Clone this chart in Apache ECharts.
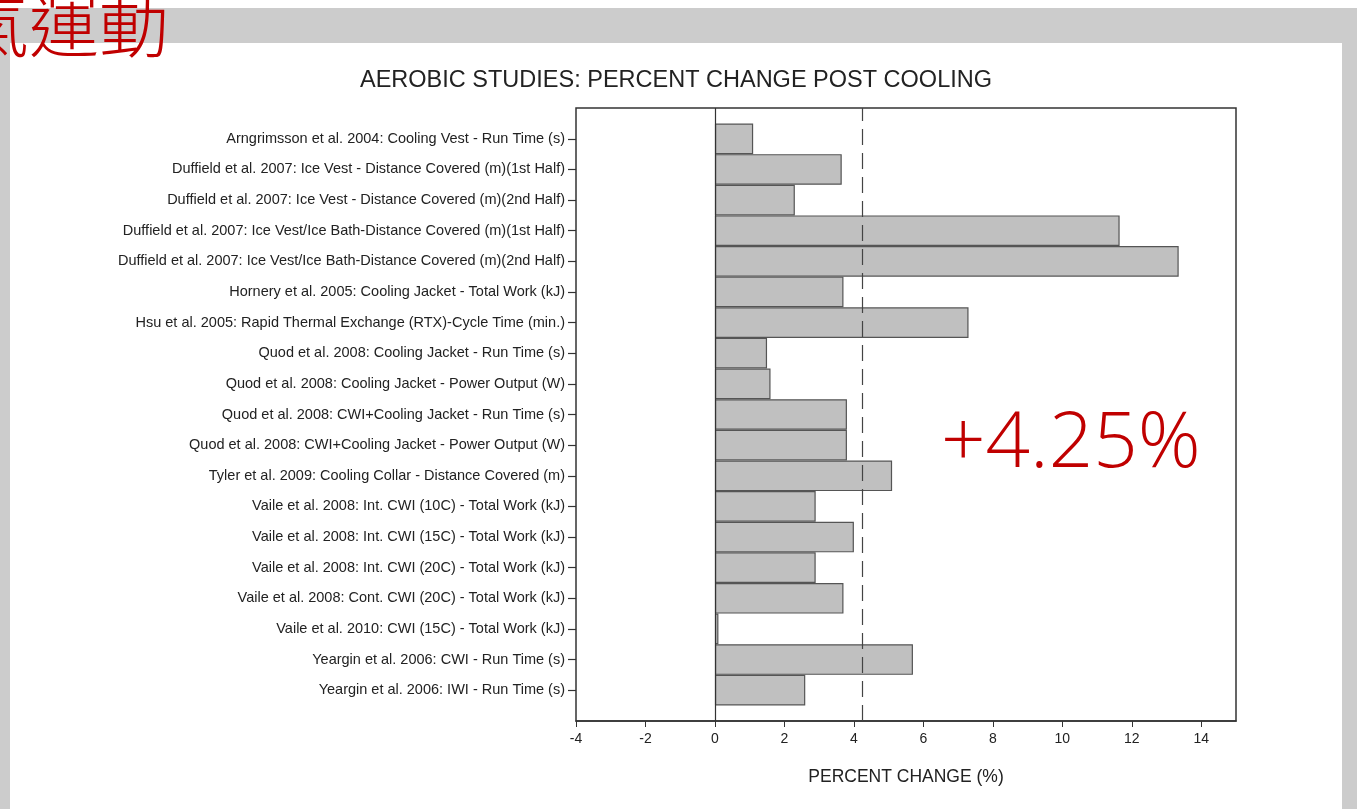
<!DOCTYPE html>
<html><head><meta charset="utf-8">
<script src="https://cdn.jsdelivr.net/npm/echarts@6/dist/echarts.min.js"></script>
<style>html,body{margin:0;padding:0;background:#fff;}#c{width:1357px;height:809px;}</style>
</head><body><div id="c"></div>
<script>
const categories = [
  "Arngrimsson et al. 2004: Cooling Vest - Run Time (s)",
  "Duffield et al. 2007: Ice Vest - Distance Covered (m)(1st Half)",
  "Duffield et al. 2007: Ice Vest - Distance Covered (m)(2nd Half)",
  "Duffield et al. 2007: Ice Vest/Ice Bath-Distance Covered (m)(1st Half)",
  "Duffield et al. 2007: Ice Vest/Ice Bath-Distance Covered (m)(2nd Half)",
  "Hornery et al. 2005: Cooling Jacket - Total Work (kJ)",
  "Hsu et al. 2005: Rapid Thermal Exchange (RTX)-Cycle Time (min.)",
  "Quod et al. 2008: Cooling Jacket - Run Time (s)",
  "Quod et al. 2008: Cooling Jacket - Power Output (W)",
  "Quod et al. 2008: CWI+Cooling Jacket - Run Time (s)",
  "Quod et al. 2008: CWI+Cooling Jacket - Power Output (W)",
  "Tyler et al. 2009: Cooling Collar - Distance Covered (m)",
  "Vaile et al. 2008: Int. CWI (10C) - Total Work (kJ)",
  "Vaile et al. 2008: Int. CWI (15C) - Total Work (kJ)",
  "Vaile et al. 2008: Int. CWI (20C) - Total Work (kJ)",
  "Vaile et al. 2008: Cont. CWI (20C) - Total Work (kJ)",
  "Vaile et al. 2010: CWI (15C) - Total Work (kJ)",
  "Yeargin et al. 2006: CWI - Run Time (s)",
  "Yeargin et al. 2006: IWI - Run Time (s)"
];
const percentChange = [1.1, 3.65, 2.3, 11.65, 13.35, 3.7, 7.3, 1.5, 1.6, 3.8, 3.8, 5.1, 2.9, 4.0, 2.9, 3.7, 0.1, 5.7, 2.6];
const meanChange = 4.25;
const xTicks = [-4, -2, 0, 2, 4, 6, 8, 10, 12, 14];
const titleText = "AEROBIC STUDIES: PERCENT CHANGE POST COOLING";
const xAxisName = "PERCENT CHANGE (%)";
const headingText = "氣運動";
const meanLabel = "+4.25%";

const chart = echarts.init(document.getElementById('c'), null, {renderer: 'canvas'});
const axisFont = "Liberation Sans, Arial, sans-serif";
const xMin = -4, xMax = 15;
const option = {
  animation: false,
  backgroundColor: '#ffffff',
  graphic: [
    {type: 'rect', z: -10, shape: {x: 0, y: 8, width: 1357, height: 801}, style: {fill: '#cccccc'}},
    {type: 'rect', z: -9, shape: {x: 10, y: 43, width: 1332, height: 766}, style: {fill: '#ffffff'}},
    {type: 'text', z: 10, left: -41, top: -10, style: {text: headingText, fill: '#c00000', font: '300 70px "Noto Sans CJK TC"'}},
    {type: 'text', z: 10, x: 941, y: 445,
     style: {text: meanLabel, fill: '#c00000', font: '300 78px "Open Sans"', textAlign: 'left', textVerticalAlign: 'middle'}},
    {type: 'text', z: 10, x: 676, y: 81,
     style: {text: titleText, fill: '#222', font: '23.5px Liberation Sans, Arial, sans-serif', textAlign: 'center', textVerticalAlign: 'middle'}}
  ],
  grid: [
    {left: 576, top: 108, width: 660, height: 613, show: true, borderColor: '#333', borderWidth: 1.5, backgroundColor: 'transparent'},
    {left: 576, top: 123.5, width: 660, height: 582}
  ],
  xAxis: [
    {type: 'value', gridIndex: 0, min: xMin, max: xMax, interval: 2,
     splitLine: {show: false},
     axisLine: {show: true, onZero: false, lineStyle: {color: '#333', width: 1.5}},
     axisTick: {show: true, length: 6, lineStyle: {color: '#333'}},
     axisLabel: {showMaxLabel: false, color: '#222', fontFamily: axisFont, fontSize: 14, margin: 11,
                 formatter: v => xTicks.includes(v) ? String(v) : ''},
     name: xAxisName, nameLocation: 'middle', nameGap: 47,
     nameTextStyle: {fontFamily: axisFont, fontSize: 17.5, color: '#222'}},
    {type: 'value', gridIndex: 1, min: xMin, max: xMax, interval: 2, show: false}
  ],
  yAxis: [
    {type: 'value', gridIndex: 0, min: 0, max: 1, show: false},
    {type: 'category', gridIndex: 1, data: categories, inverse: true, position: 'left',
     axisLine: {show: false, onZero: false},
     axisTick: {show: true, alignWithLabel: true, length: 8, lineStyle: {color: '#333', width: 1.2}},
     axisLabel: {color: '#222', fontFamily: axisFont, fontSize: 14.5, margin: 11, interval: 0}}
  ],
  series: [
    {type: 'bar', xAxisIndex: 1, yAxisIndex: 1, data: percentChange, barCategoryGap: '0%',
     itemStyle: {color: '#c0c0c0', borderColor: '#555', borderWidth: 1.2}},
    {type: 'line', xAxisIndex: 0, yAxisIndex: 0, data: [], symbol: 'none',
     markLine: {silent: true, symbol: ['none', 'none'], label: {show: false},
       data: [
         {xAxis: 0, lineStyle: {color: '#333', width: 1.2, type: 'solid'}},
         {xAxis: meanChange, lineStyle: {color: '#444', width: 1.2, type: [16, 8]}}
       ]}}
  ]
};
chart.setOption(option);
</script></body></html>
